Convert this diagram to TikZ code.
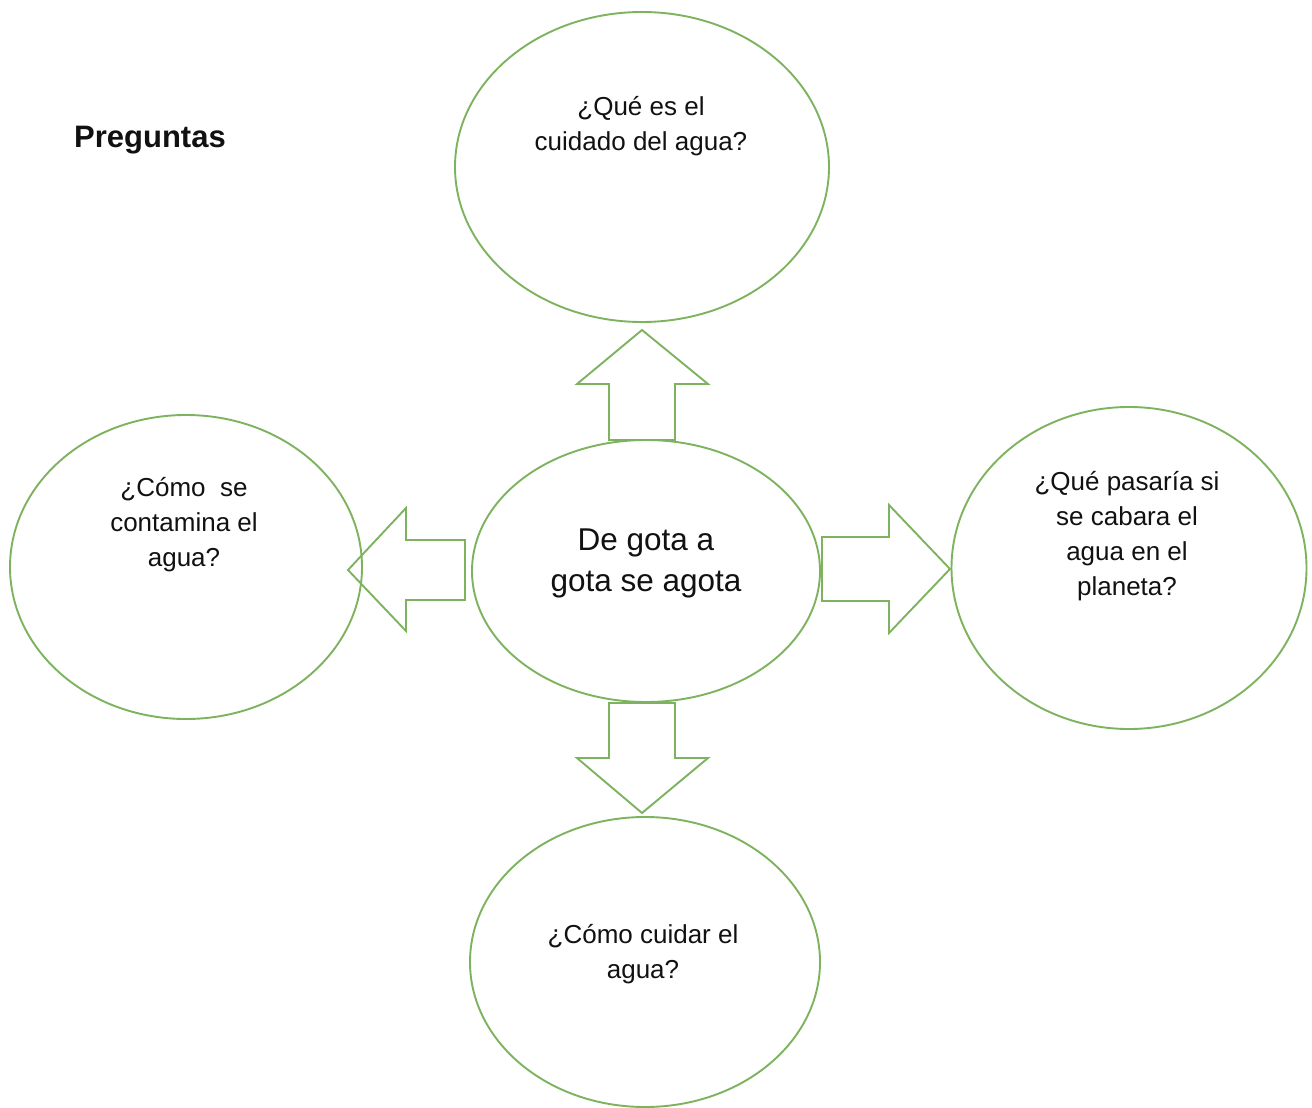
\documentclass[tikz,border=0pt]{standalone}
\usepackage{fontspec}
\setmainfont{Liberation Sans}
\usetikzlibrary{shapes.geometric}
\definecolor{ggreen}{HTML}{7DB35E}
\definecolor{tblack}{HTML}{111111}
\begin{document}
\begin{tikzpicture}[x=1pt,y=-1pt,
  bubble/.style={draw=ggreen,line width=1.9pt,ellipse,inner sep=0pt},
  qtext/.style={align=center,text=tblack,font=\fontsize{26}{35}\selectfont,inner sep=0pt},
  blockarrow/.style={draw=ggreen,line width=1.9pt,line join=miter}]
\useasboundingbox (0,0) rectangle (1312,1108);
\fill[white] (0,0) rectangle (1312,1108);
% ellipses
\node[bubble,minimum width=374pt,minimum height=310pt] (top) at (642,167) {};
\node[bubble,minimum width=352pt,minimum height=304pt] (left) at (186,567) {};
\node[bubble,minimum width=348pt,minimum height=262pt] (center) at (646,571) {};
\node[bubble,minimum width=355pt,minimum height=322pt] (right) at (1129,568) {};
\node[bubble,minimum width=350pt,minimum height=290pt] (bottom) at (645,962) {};
% texts
\node[font=\fontsize{31}{36}\selectfont\bfseries,text=tblack,inner sep=0pt] (title) at (150,140) {Preguntas};
\node[qtext] (toptext) at (641,126) {¿Qué es el\\cuidado del agua?};
\node[qtext] (lefttext) at (184,525) {¿Cómo\ \ se\\contamina el\\agua?};
\node[qtext,font=\fontsize{31.5}{41}\selectfont] (centertext) at (646,563) {De gota a\\gota se agota};
\node[qtext] (righttext) at (1127,536) {¿Qué pasaría si\\se cabara el\\agua en el\\planeta?};
\node[qtext] (bottomtext) at (643,954) {¿Cómo cuidar el\\agua?};
% block arrows
\coordinate (upTip) at (642,330);
\draw[blockarrow] (upTip) -- (708,384) -- (675,384) -- (675,440) -- (609,440) -- (609,384) -- (577,384) -- cycle;
\coordinate (leftTip) at (348,570);
\draw[blockarrow] (leftTip) -- (406,508) -- (406,540) -- (465,540) -- (465,600) -- (406,600) -- (406,631) -- cycle;
\coordinate (rightTip) at (950,569);
\draw[blockarrow] (rightTip) -- (889,505) -- (889,537) -- (822,537) -- (822,601) -- (889,601) -- (889,633) -- cycle;
\coordinate (downTip) at (642,813);
\draw[blockarrow] (downTip) -- (708,758) -- (675,758) -- (675,703) -- (609,703) -- (609,758) -- (577,758) -- cycle;
\end{tikzpicture}
\end{document}
